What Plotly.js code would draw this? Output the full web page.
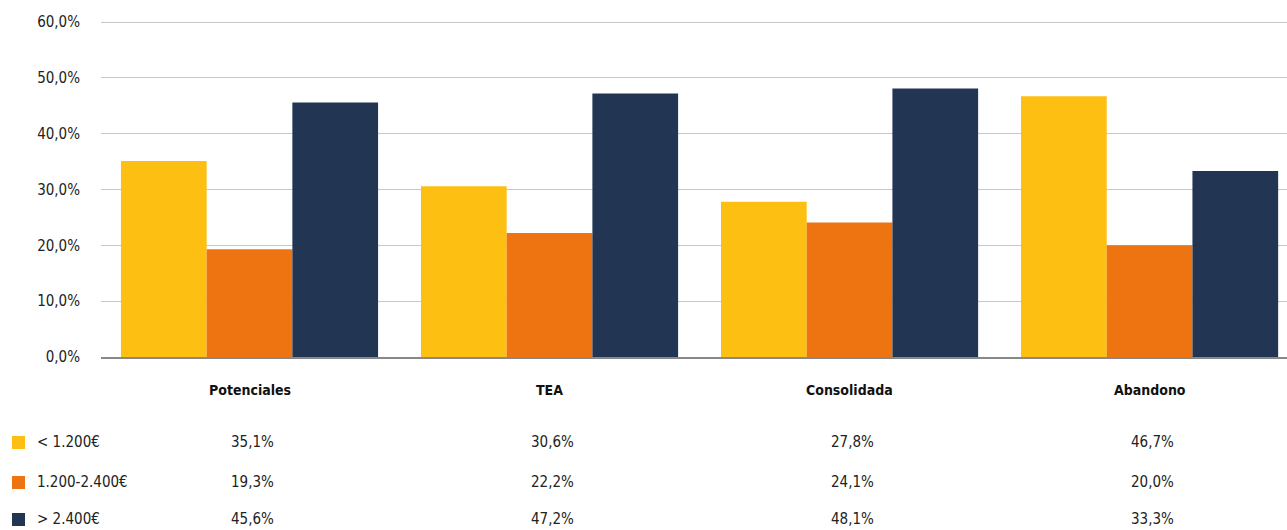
<!DOCTYPE html>
<html>
<head>
<meta charset="utf-8">
<script src="https://cdn.plot.ly/plotly-3.0.1.min.js"></script>
<style>html,body{margin:0;padding:0;background:#fff;}#chart{width:1287px;height:530px;}</style>
</head>
<body>
<div id="chart"></div>
<script>
const categories = ["Potenciales", "TEA", "Consolidada", "Abandono"];
const seriesNames = ["< 1.200€", "1.200-2.400€", "> 2.400€"];
const low = [35.1, 30.6, 27.8, 46.7];
const mid = [19.3, 22.2, 24.1, 20.0];
const high = [45.6, 47.2, 48.1, 33.3];
const yTicks = [0, 10, 20, 30, 40, 50, 60];

const seriesValues = [low, mid, high];
const colors = ["#FDBF11", "#EE7411", "#223654"];
const FONT = "'DejaVu Sans Condensed', 'Liberation Sans Narrow', sans-serif";

const traces = seriesValues.map((vals, i) => ({
  type: "bar",
  name: seriesNames[i],
  x: categories,
  y: vals,
  marker: {color: colors[i]},
  hoverinfo: "none"
}));

const fmt = v => v.toFixed(1).replace(".", ",") + "%";
const rowY = [442, 482, 519];
const H = 530, T = 20, B = 173, L = 101, R = 0;
const plotH = H - T - B;
const toPaperY = py => (H - B - py) / plotH;
const plotW = 1287 - L - R;
const toPaperX = px => (px - L) / plotW;

const annotations = [];
const shapes = [];
categories.forEach(c => {
  annotations.push({x: c, xref: "x", y: toPaperY(390), yref: "paper", text: "<b>" + c + "</b>",
    showarrow: false, font: {family: FONT, size: 14, color: "#111"}, xanchor: "center", yanchor: "middle"});
});
seriesValues.forEach((vals, i) => {
  vals.forEach((v, j) => {
    annotations.push({x: categories[j], xref: "x", xshift: 3, y: toPaperY(rowY[i]), yref: "paper", text: fmt(v),
      showarrow: false, font: {family: FONT, size: 15, color: "#222"}, xanchor: "center", yanchor: "middle"});
  });
  shapes.push({type: "rect", xref: "paper", yref: "paper",
    x0: toPaperX(12), x1: toPaperX(25), y0: toPaperY(rowY[i] + 7), y1: toPaperY(rowY[i] - 6),
    fillcolor: colors[i], line: {width: 0}});
  annotations.push({x: toPaperX(35), xref: "paper", y: toPaperY(rowY[i]), yref: "paper",
    text: seriesNames[i].replace("<", "&lt;").replace(">", "&gt;"),
    showarrow: false, font: {family: FONT, size: 15, color: "#222"}, xanchor: "left", yanchor: "middle"});
});

const layout = {
  width: 1287, height: 530,
  margin: {l: L, r: R, t: T, b: B},
  paper_bgcolor: "#fff", plot_bgcolor: "#fff",
  barmode: "group", bargap: 0.143, bargroupgap: 0,
  showlegend: false,
  font: {family: FONT, size: 15, color: "#222"},
  xaxis: {type: "category", range: [-0.495, 3.458], showticklabels: false, showgrid: false, zeroline: false,
    showline: true, linecolor: "#888", linewidth: 2, ticks: ""},
  yaxis: {range: [0, 60.36], tickvals: yTicks, ticktext: yTicks.map(fmt),
    showgrid: true, gridcolor: "#c8c8c8", gridwidth: 1, zeroline: false, showline: false,
    ticks: "", ticklabelstandoff: 20, tickfont: {family: FONT, size: 15, color: "#222"}},
  annotations: annotations,
  shapes: shapes
};

Plotly.newPlot("chart", traces, layout, {displayModeBar: false, staticPlot: true});
</script>
</body>
</html>
